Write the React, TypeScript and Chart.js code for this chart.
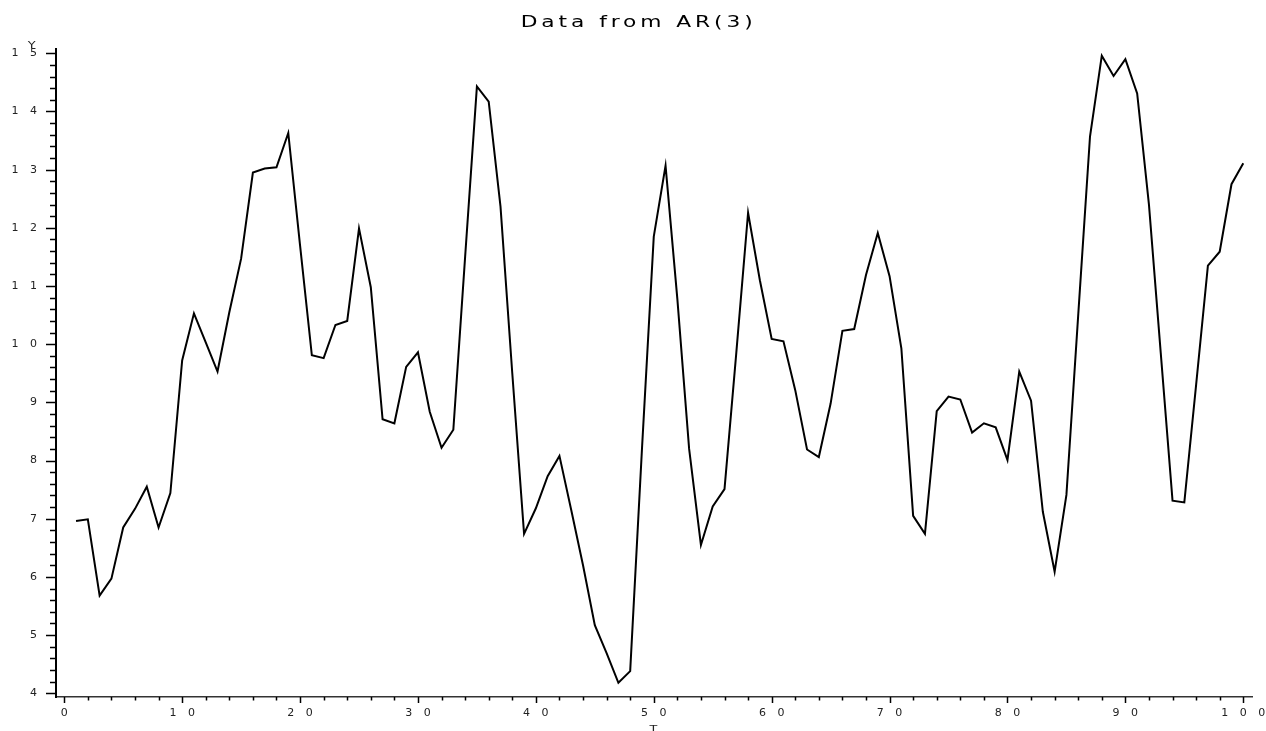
import React, { useEffect, useRef } from "react";
import { Chart, registerables } from "chart.js";

Chart.register(...registerables);

const TITLE = "Data from AR(3)";
const X_LABEL = "T";
const Y_LABEL = "Y";

const T = [
  1, 2, 3, 4, 5, 6, 7, 8, 9, 10,
  11, 12, 13, 14, 15, 16, 17, 18, 19, 20,
  21, 22, 23, 24, 25, 26, 27, 28, 29, 30,
  31, 32, 33, 34, 35, 36, 37, 38, 39, 40,
  41, 42, 43, 44, 45, 46, 47, 48, 49, 50,
  51, 52, 53, 54, 55, 56, 57, 58, 59, 60,
  61, 62, 63, 64, 65, 66, 67, 68, 69, 70,
  71, 72, 73, 74, 75, 76, 77, 78, 79, 80,
  81, 82, 83, 84, 85, 86, 87, 88, 89, 90,
  91, 92, 93, 94, 95, 96, 97, 98, 99, 100,
];

const Y = [
  6.96, 6.99, 5.68, 5.97, 6.85, 7.17, 7.55, 6.85, 7.44, 9.72,
  10.53, 10.03, 9.53, 10.55, 11.47, 12.95, 13.02, 13.04, 13.63, 11.7,
  9.81, 9.76, 10.33, 10.4, 11.99, 10.98, 8.71, 8.64, 9.61, 9.86,
  8.84, 8.22, 8.53, 11.5, 14.43, 14.17, 12.37, 9.5, 6.74, 7.18,
  7.73, 8.08, 7.15, 6.2, 5.17, 4.69, 4.18, 4.38, 8.2, 11.85,
  13.07, 10.78, 8.2, 6.55, 7.21, 7.51, 9.85, 12.26, 11.1, 10.09,
  10.05, 9.21, 8.19, 8.06, 8.98, 10.23, 10.26, 11.19, 11.91, 11.17,
  9.93, 7.05, 6.74, 8.85, 9.1, 9.05, 8.48, 8.64, 8.57, 8.01,
  9.53, 9.03, 7.12, 6.09, 7.41, 10.5, 13.57, 14.96, 14.61, 14.9,
  14.31, 12.4, 9.85, 7.31, 7.28, 9.3, 11.35, 11.59, 12.75, 13.11,
];

const X_TICKS = [0, 10, 20, 30, 40, 50, 60, 70, 80, 90, 100];
const Y_TICKS = [4, 5, 6, 7, 8, 9, 10, 11, 12, 13, 14, 15];

const FONT = "DejaVu Sans";
const TICK_SPACING = 11.5;

export default function App() {
  const ref = useRef<HTMLCanvasElement>(null);

  useEffect(() => {
    const canvas = ref.current;
    if (!canvas) return;

    const decor = {
      id: "decor",
      beforeDraw(chart: any) {
        (chart.ctx as any).letterSpacing = TICK_SPACING + "px";
      },
      afterDraw(chart: any) {
        const ctx = chart.ctx as CanvasRenderingContext2D;
        const xs = chart.scales.x;
        const ys = chart.scales.y;
        const ax = chart.chartArea.left;
        const ay = chart.chartArea.bottom;
        ctx.save();
        (ctx as any).letterSpacing = "0px";
        ctx.strokeStyle = "#000";
        ctx.lineWidth = 1.5;
        ctx.beginPath();
        // y ticks: minor every 0.2, major every 1
        for (let k = 0; k <= 55; k++) {
          const v = Y_TICKS[0] + k * 0.2;
          const p = Math.round(ys.getPixelForValue(v)) + 0.5;
          const len = k % 5 === 0 ? 10 : 6;
          ctx.moveTo(ax - len, p);
          ctx.lineTo(ax, p);
        }
        // x ticks: minor every 2, major every 10
        for (let k = 0; k <= 50; k++) {
          const v = X_TICKS[0] + k * 2;
          const p = Math.round(xs.getPixelForValue(v)) + 0.5;
          const len = k % 5 === 0 ? 6 : 3.5;
          ctx.moveTo(p, ay);
          ctx.lineTo(p, ay + len);
        }
        ctx.stroke();

        // title
        ctx.fillStyle = "#000";
        ctx.font = `15px '${FONT}'`;
        const ls = 2.7;
        const sx = 1.45;
        (ctx as any).letterSpacing = ls + "px";
        ctx.textAlign = "left";
        ctx.textBaseline = "alphabetic";
        const w = (ctx.measureText(TITLE).width - ls) * sx;
        ctx.save();
        ctx.translate(636.7 - w / 2, 26.7);
        ctx.scale(sx, 1);
        ctx.fillText(TITLE, 0, 0);
        ctx.restore();

        // axis labels
        (ctx as any).letterSpacing = "0px";
        ctx.font = `8px '${FONT}'`;
        ctx.fillStyle = "#222";
        ctx.textAlign = "center";
        ctx.save();
        ctx.translate(31.7, 47.5);
        ctx.scale(1.6, 1);
        ctx.fillText(Y_LABEL, 0, 0);
        ctx.restore();
        ctx.save();
        ctx.translate(653.3, 731.5);
        ctx.scale(1.6, 1);
        ctx.fillText(X_LABEL, 0, 0);
        ctx.restore();
        ctx.restore();
      },
    };

    const chart = new Chart(canvas, {
      type: "line",
      data: {
        datasets: [
          {
            label: "AR(3)",
            data: T.map((t, i) => ({ x: t, y: Y[i] })),
            borderColor: "#000",
            borderWidth: 2,
            pointRadius: 0,
            tension: 0,
            fill: false,
          },
        ],
      },
      options: {
        responsive: false,
        animation: false,
        layout: { padding: { top: 49, right: 14, left: 0, bottom: 0 } },
        plugins: {
          legend: { display: false },
          title: { display: false },
          tooltip: { enabled: false },
        },
        scales: {
          x: {
            type: "linear",
            min: -0.7,
            max: 100.74,
            grid: { display: false, drawTicks: false },
            border: { display: true, color: "#333", width: 1.5 },
            afterBuildTicks: (s: any) => {
              s.ticks = X_TICKS.map((v) => ({ value: v }));
            },
            afterFit: (s: any) => {
              s.height = 34;
            },
            ticks: {
              autoSkip: false,
              maxRotation: 0,
              padding: 10,
              labelOffset: TICK_SPACING / 2,
              color: "#222",
              font: { family: FONT, size: 11 },
              callback: (v: any) => String(v),
            },
          },
          y: {
            type: "linear",
            min: 3.936,
            max: 15.074,
            grid: { display: false, drawTicks: false },
            border: { display: true, color: "#000", width: 2 },
            afterBuildTicks: (s: any) => {
              s.ticks = Y_TICKS.map((v) => ({ value: v }));
            },
            afterFit: (s: any) => {
              s.width = 56;
            },
            ticks: {
              autoSkip: false,
              padding: 56 - 37 - TICK_SPACING,
              color: "#222",
              font: { family: FONT, size: 11 },
              callback: (v: any) => String(v),
            },
          },
        },
      },
      plugins: [decor],
    } as any);

    return () => chart.destroy();
  }, []);

  return (
    <div style={{ position: "absolute", left: 0, top: 0, width: 1266, height: 731, background: "#fff" }}>
      <canvas ref={ref} width={1266} height={731} style={{ display: "block" }} />
    </div>
  );
}
